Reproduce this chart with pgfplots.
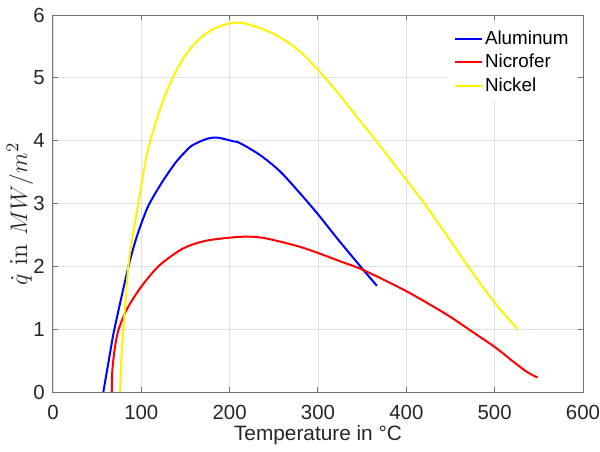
\documentclass[border=0pt]{standalone}
\usepackage{fontspec}
\setmainfont{Liberation Sans}
\newfontfamily\lmr{Latin Modern Roman}
\usepackage{pgfplots}
\pgfplotsset{compat=1.18}

\definecolor{axgray}{gray}{0.45}
\definecolor{txtgray}{gray}{0.15}
\definecolor{gridgray}{gray}{0.88}

\begin{document}
\begin{tikzpicture}
\begin{axis}[
  at={(0,0)}, anchor=origin,
  scale only axis,
  width=265pt, height=188.5pt,
  xmin=0, xmax=600, ymin=0, ymax=6,
  xtick={0,100,...,600}, ytick={0,1,...,6},
  grid=major,
  major grid style={gridgray, line width=0.4pt},
  axis line style={axgray, line width=0.5pt},
  tick align=inside,
  major tick length=2.5pt,
  tick style={axgray, line width=0.5pt},
  /pgf/number format/assume math mode=true,
  ticklabel style={font=\fontsize{10.2}{12}\selectfont, text=txtgray},
  xticklabel style={yshift=-3.1pt},
  yticklabel style={xshift=-0.6pt},
  xlabel={Temperature in °C},
  xlabel style={font=\fontsize{10.4}{12.5}\selectfont, text=txtgray,
    at={(axis description cs:0.5,0)}, anchor=base, yshift=-24pt},
  ylabel={{\lmr $\dot{q}$ in $MW/m^2$}},
  ylabel style={font=\fontsize{13}{15}\selectfont, text=txtgray,
    at={(axis description cs:-0.0623,0.472)}, anchor=center},
  legend style={at={(axis description cs:1,1)}, anchor=north east,
    xshift=-3pt, yshift=-4.5pt, draw=none, fill=white,
    font=\fontsize{9.4}{11}\selectfont, row sep=1.5pt,
    nodes={inner sep=1pt}},
  legend cell align=left,
  legend image code/.code={\draw[#1] (0pt,0pt) -- (13.5pt,0pt);},
  every axis plot/.append style={line width=1pt, smooth, no markers},
]
% Aluminum
\addplot[blue] coordinates {
  (57,0) (64.6,0.62) (69.5,1.0) (85.3,1.99) (94.8,2.47) (104.2,2.84)
  (110,3.02) (123.1,3.33) (138.2,3.64) (149.5,3.82) (157.1,3.92)
  (172.2,4.02) (185.4,4.05) (204.2,3.99) (211.8,3.96) (234.5,3.77)
  (257.1,3.51) (279.8,3.16) (300.5,2.82) (321.4,2.45) (351.5,1.94)
  (366.7,1.69)
};
\addlegendentry{Aluminum}
% Nicrofer
\addplot[red] coordinates {
  (66.5,0) (67.2,0.35) (70.2,0.72) (74.4,1.0) (83.4,1.31) (98.5,1.65)
  (116.5,1.96) (130.6,2.13) (149.5,2.30) (174.1,2.41) (211.8,2.47)
  (234.5,2.46) (255.2,2.40) (279.8,2.31) (300.5,2.21) (325.1,2.08)
  (351.5,1.94) (400.6,1.60) (446,1.23) (470.4,1.0) (500.7,0.71)
  (521.4,0.48) (536.5,0.32) (548.6,0.23)
};
\addlegendentry{Nicrofer}
% Nickel
\addplot[yellow] coordinates {
  (75.9,0) (77.8,0.62) (79.7,1.0) (85.3,2.0) (90.5,2.5) (96.6,3.0)
  (106.1,3.77) (115.5,4.25) (125,4.65) (136.3,5.02) (147.6,5.31)
  (160.8,5.55) (176,5.73) (192.9,5.84) (211.8,5.88) (234.5,5.79)
  (255.2,5.66) (277.9,5.44) (300.5,5.12) (323.2,4.75) (344,4.38)
  (366.7,3.98) (421.4,2.98) (470.4,1.99) (500.7,1.41) (526,1.0)
};
\addlegendentry{Nickel}
\end{axis}
\pgfresetboundingbox
\path (-26.5pt,-29.5pt) rectangle (273.5pt,196pt);
\end{tikzpicture}
\end{document}
